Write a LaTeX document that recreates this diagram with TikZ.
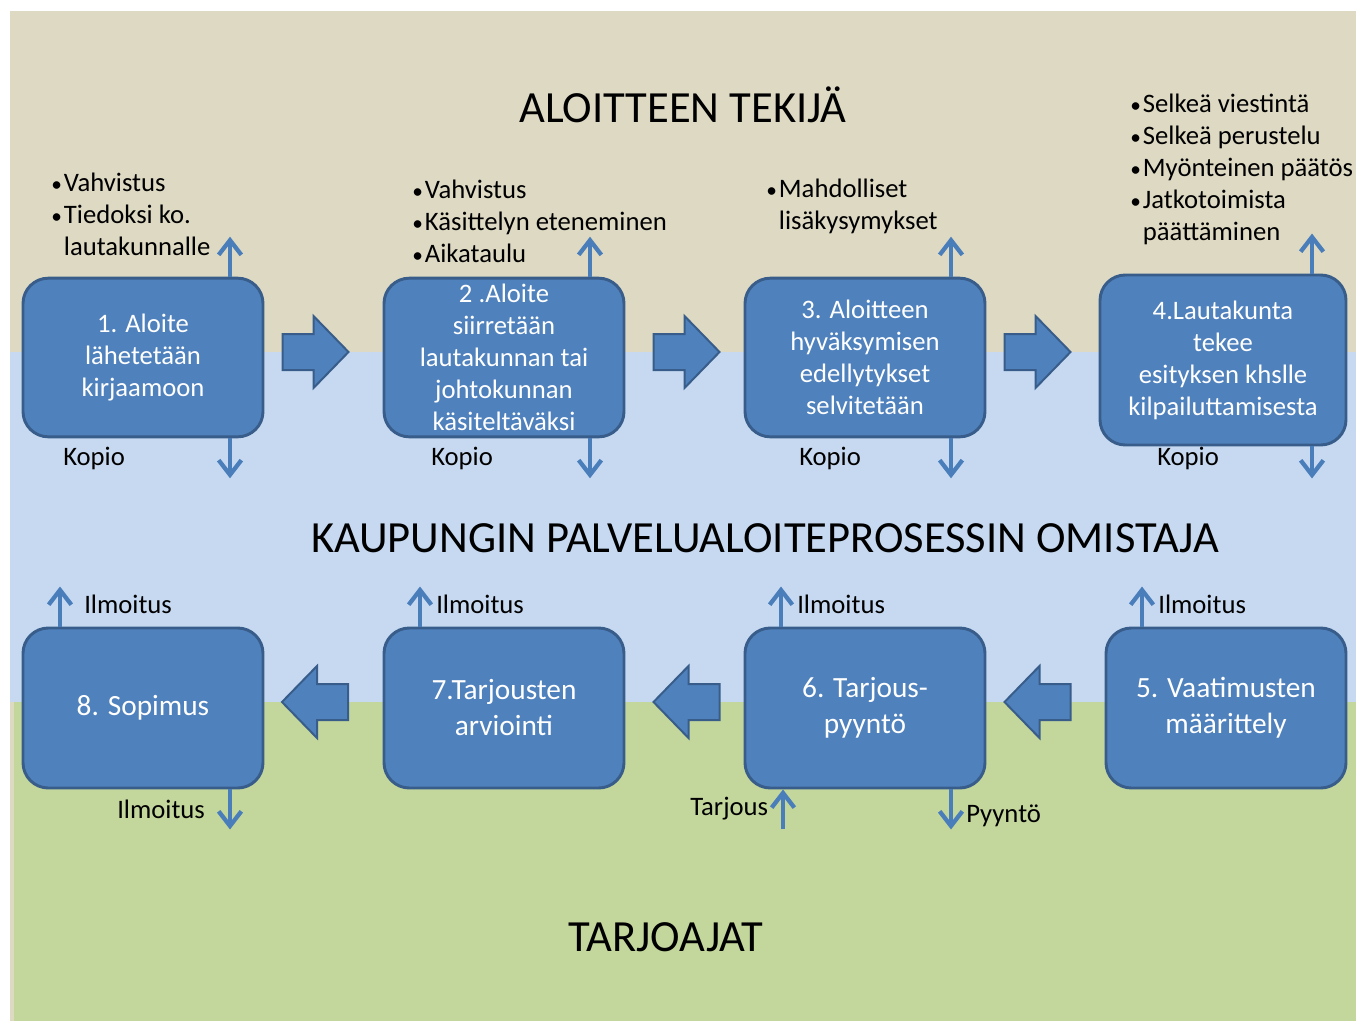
\documentclass[tikz,border=0pt]{standalone}
\usepackage{fontspec}
\setmainfont{Carlito}
\usetikzlibrary{positioning, arrows.meta, calc}
\definecolor{bandtop}{RGB}{221,217,195}
\definecolor{bandmid}{RGB}{198,217,241}
\definecolor{bandlow}{RGB}{195,214,155}
\definecolor{theme}{RGB}{79,129,189}
\definecolor{themedark}{RGB}{56,93,138}
\definecolor{flowblue}{RGB}{74,126,187}
\newcommand{\bul}{\makebox[9.5pt][l]{\scalebox{0.8}{\textbullet}}}
\newcommand{\nobul}{\hspace*{9.5pt}}

\tikzset{
  stage/.style={draw=themedark, fill=theme, line width=2.2pt, rounded corners=19pt, text=white,
    align=center, minimum width=180pt, minimum height=119pt, inner sep=0pt},
  toprow/.style={font=\fontsize{20}{24}\selectfont},
  botrow/.style={font=\fontsize{22}{27}\selectfont, minimum height=120pt},
  lbl/.style={font=\fontsize{20}{24}\selectfont, inner sep=0pt, anchor=west, align=left},
  band/.style={font=\fontsize{33.4}{40}\selectfont, inner sep=0pt},
  flow/.style={flowblue, line width=3.2pt, -{Straight Barb[length=11pt, width=17pt]}},
  blockarrow/.style={fill=theme, draw=themedark, line width=1.5pt, line join=miter},
  rblock/.pic={\draw[blockarrow] (-33,-18) -- (-2,-18) -- (-2,-36) -- (33,0) -- (-2,36) -- (-2,18) -- (-33,18) -- cycle;},
  lblock/.pic={\draw[blockarrow] (33,-18) -- (2,-18) -- (2,-36) -- (-33,0) -- (2,36) -- (2,18) -- (33,18) -- cycle;}
}

\begin{document}
\begin{tikzpicture}[x=0.75pt, y=-0.75pt]
  \useasboundingbox (0,0) rectangle (1356,1021);
  % the three bands
  \fill[bandtop] (10,11) rectangle (1356,1021);
  \fill[bandmid] (10,352) rectangle (1356,702);
  \fill[bandlow] (14,702) rectangle (1356,1021);

  \node[band] (tekija) at (683,105) {ALOITTEEN TEKIJÄ};
  \node[band] (omistaja) at (765,538) {KAUPUNGIN PALVELUALOITEPROSESSIN OMISTAJA};
  \node[band] (tarjoajat) at (666,937) {TARJOAJAT};

  % top row
  \node[stage, toprow] (b1) at (143,357.5) {1. Aloite\\lähetetään\\kirjaamoon};
  \node[stage, toprow] (b2) at (504,357.5) {2 .Aloite\\siirretään\\lautakunnan tai\\johtokunnan\\käsiteltäväksi};
  \node[stage, toprow] (b3) at (865,357.5) {3. Aloitteen\\hyväksymisen\\edellytykset\\selvitetään};
  \node[stage, toprow, minimum width=184.5pt, minimum height=127.5pt] (b4) at (1223,360) {4.Lautakunta\\tekee\\esityksen khslle\\kilpailuttamisesta};

  % bottom row
  \node[stage, botrow] (b5) at (1226,708) {5. Vaatimusten\\määrittely};
  \node[stage, botrow] (b6) at (865,708) {6. Tarjous-\\pyyntö};
  \node[stage, botrow] (b7) at (504,708) {7.Tarjousten\\arviointi};
  \node[stage, botrow] (b8) at (143,708) {8. Sopimus};

  \pic at (315.5,352) {rblock};
  \pic at (686.5,352) {rblock};
  \pic at (1037.5,352) {rblock};
  \pic at (315,702) {lblock};
  \pic at (686.5,702) {lblock};
  \pic at (1037.5,702) {lblock};

  % notes above the top row
  \node[lbl] (n1) at (51,214.5) {\bul Vahvistus\\\bul Tiedoksi ko.\\\nobul lautakunnalle};
  \node[lbl] (n2) at (412,221.5) {\bul Vahvistus\\\bul Käsittelyn eteneminen\\\bul Aikataulu};
  \node[lbl] (n3) at (766,206) {\bul Mahdolliset\\\nobul lisäkysymykset};
  \node[lbl] (n4) at (1130,169) {\bul Selkeä viestintä\\\bul Selkeä perustelu\\\bul Myönteinen päätös\\\bul Jatkotoimista\\\nobul päättäminen};

  \foreach \b/\dx/\len in {b1/87/40, b2/86/40, b3/86/40, b4/89/32} {
    \draw[flow] ($(\b.north)+(\dx,0)$) -- ++(0,-40);
    \draw[flow] ($(\b.south)+(\dx,0)$) -- ++(0,\len);
  }
  \node[lbl] (k1) at (63,458) {Kopio};
  \node[lbl] (k2) at (431,458) {Kopio};
  \node[lbl] (k3) at (799,458) {Kopio};
  \node[lbl] (k4) at (1157,458) {Kopio};

  \foreach \b/\dx in {b8/-83, b7/-84, b6/-84, b5/-84}
    \draw[flow] ($(\b.north)+(\dx,0)$) -- ++(0,-40);
  \node[lbl] (i8) at (84,604) {Ilmoitus};
  \node[lbl] (i7) at (436,604) {Ilmoitus};
  \node[lbl] (i6) at (797,604) {Ilmoitus};
  \node[lbl] (i5) at (1158,604) {Ilmoitus};

  \draw[flow] ($(b8.south)+(87,0)$) -- ++(0,40);
  \node[lbl] (i8b) at (117,809) {Ilmoitus};
  \draw[flow] ($(b6.south)+(-82,40)$) -- ++(0,-40);
  \draw[flow] ($(b6.south)+(86,0)$) -- ++(0,40);
  \node[lbl] (tarjous) at (690,809) {Tarjous};
  \node[lbl] (pyynto) at (966,816) {Pyyntö};
\end{tikzpicture}
\end{document}
